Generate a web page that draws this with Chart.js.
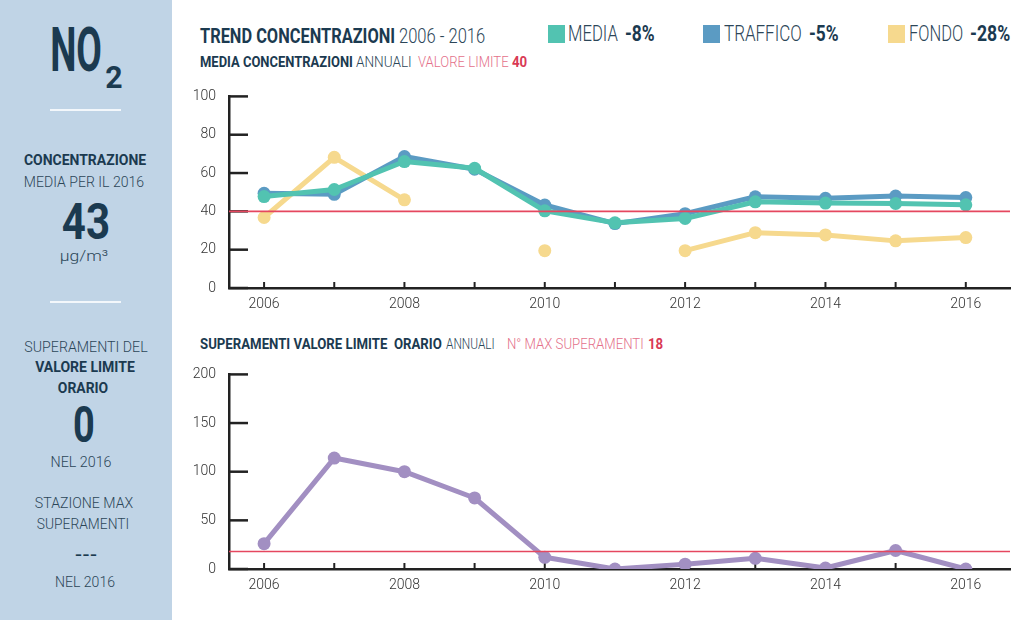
<!DOCTYPE html>
<html><head><meta charset="utf-8">
<script src="https://cdn.jsdelivr.net/npm/chart.js@4.4.1/dist/chart.umd.min.js"></script>
<style>
html,body{margin:0;padding:0;background:#fff;width:1024px;height:620px;overflow:hidden;font-family:Roboto,sans-serif}
#panel{position:absolute;left:0;top:0;width:172px;height:620px;background:#c0d4e6}
.sep{position:absolute;left:50px;width:71px;height:2px;background:#f3f7fb}
.t{position:absolute;white-space:nowrap;line-height:1;font-family:Roboto,sans-serif}
.sq{position:absolute;width:17px;height:18px}
canvas{position:absolute}
</style></head>
<body>
<div id="panel"></div>
<div class="sep" style="top:109px"></div>
<div class="sep" style="top:301px"></div>

<div class="t" data-a="c" data-x="76" data-y="50" data-w="52" style="font-weight:700;font-size:62px;color:#1b3a50">NO</div>
<div class="t" data-a="c" data-x="113.5" data-y="77" data-w="17" style="font-weight:700;font-size:32px;color:#1b3a50">2</div>
<div class="t" data-a="c" data-x="85" data-y="160" data-w="122" style="font-weight:700;font-size:15px;color:#1b3a50">CONCENTRAZIONE</div>
<div class="t" data-a="c" data-x="84" data-y="181.5" data-w="120" style="font-weight:300;font-size:15px;color:#2c4658">MEDIA PER IL 2016</div>
<div class="t" data-a="c" data-x="86" data-y="222" data-w="48" style="font-weight:700;font-size:50px;color:#1b3a50">43</div>
<div class="t" data-a="c" data-x="84" data-y="256" data-w="48" style="font-weight:300;font-size:15px;color:#2c4658">μg/m³</div>
<div class="t" data-a="c" data-x="85.5" data-y="346.5" data-w="123" style="font-weight:300;font-size:15px;color:#2c4658">SUPERAMENTI DEL</div>
<div class="t" data-a="c" data-x="85" data-y="367" data-w="100" style="font-weight:700;font-size:15px;color:#1b3a50">VALORE LIMITE</div>
<div class="t" data-a="c" data-x="83" data-y="388" data-w="50" style="font-weight:700;font-size:15px;color:#1b3a50">ORARIO</div>
<div class="t" data-a="c" data-x="83.5" data-y="425" data-w="22" style="font-weight:700;font-size:50px;color:#1b3a50">0</div>
<div class="t" data-a="c" data-x="80.5" data-y="461.5" data-w="61" style="font-weight:300;font-size:15px;color:#2c4658">NEL 2016</div>
<div class="t" data-a="c" data-x="84" data-y="503" data-w="98" style="font-weight:300;font-size:15px;color:#2c4658">STAZIONE MAX</div>
<div class="t" data-a="c" data-x="83" data-y="524" data-w="92" style="font-weight:300;font-size:15px;color:#2c4658">SUPERAMENTI</div>
<div class="t" data-a="c" data-x="85.5" data-y="555" data-w="23" style="font-weight:700;font-size:15px;color:#1b3a50">---</div>
<div class="t" data-a="c" data-x="85" data-y="581.5" data-w="60" style="font-weight:300;font-size:15px;color:#2c4658">NEL 2016</div>

<div class="t" data-x="200" data-y="35.5" data-w="195" style="font-weight:700;font-size:20px;color:#1b3a50">TREND CONCENTRAZIONI</div>
<div class="t" data-x="399" data-y="35.5" data-w="86" style="font-weight:300;font-size:20px;color:#2c4658">2006 - 2016</div>
<div class="t" data-x="200" data-y="61.5" data-w="153" style="font-weight:700;font-size:15px;color:#1b3a50">MEDIA CONCENTRAZIONI</div>
<div class="t" data-x="356" data-y="61.5" data-w="56" style="font-weight:300;font-size:15px;color:#2c4658">ANNUALI</div>
<div class="t" data-x="418" data-y="61.5" data-w="91" style="font-weight:300;font-size:15px;color:#e4708a">VALORE LIMITE</div>
<div class="t" data-x="512" data-y="61.5" data-w="15" style="font-weight:700;font-size:15px;color:#d93a55">40</div>

<div class="sq" style="left:548px;top:25px;background:#52c3b1"></div>
<div class="t" data-x="568" data-y="34" data-w="50" style="font-weight:300;font-size:22px;color:#2c4658">MEDIA</div>
<div class="t" data-x="625" data-y="34" data-w="30" style="font-weight:700;font-size:22px;color:#1b3a50">-8%</div>
<div class="sq" style="left:703px;top:25px;background:#5b9bc3"></div>
<div class="t" data-x="724" data-y="34" data-w="78" style="font-weight:300;font-size:22px;color:#2c4658">TRAFFICO</div>
<div class="t" data-x="809" data-y="34" data-w="30" style="font-weight:700;font-size:22px;color:#1b3a50">-5%</div>
<div class="sq" style="left:888px;top:25px;background:#f6d98e"></div>
<div class="t" data-x="909" data-y="34" data-w="54" style="font-weight:300;font-size:22px;color:#2c4658">FONDO</div>
<div class="t" data-x="970" data-y="34" data-w="40" style="font-weight:700;font-size:22px;color:#1b3a50">-28%</div>

<div class="t" data-x="200" data-y="344" data-w="242" style="font-weight:700;font-size:15px;color:#1b3a50">SUPERAMENTI VALORE LIMITE&nbsp; ORARIO</div>
<div class="t" data-x="446" data-y="344" data-w="49" style="font-weight:300;font-size:15px;color:#2c4658">ANNUALI</div>
<div class="t" data-x="507" data-y="344" data-w="137" style="font-weight:300;font-size:15px;color:#e4708a">N° MAX SUPERAMENTI</div>
<div class="t" data-x="648" data-y="344" data-w="15" style="font-weight:700;font-size:15px;color:#d93a55">18</div>

<canvas id="c1" width="844" height="243" style="left:180px;top:75px;width:844px;height:243px"></canvas>
<canvas id="c2" width="844" height="246" style="left:180px;top:353px;width:844px;height:246px"></canvas>

<script>
// ---- data ----
const years = [2006, 2007, 2008, 2009, 2010, 2011, 2012, 2013, 2014, 2015, 2016];
const media    = [47.7, 51.4, 66.0, 62.5, 40.3, 34.0, 36.3, 45.0, 44.3, 44.1, 43.4];
const traffico = [49.4, 48.9, 68.6, 62.0, 43.3, 33.6, 38.8, 47.6, 46.8, 48.0, 47.2];
const fondo    = [36.8, 68.2, 46.0, null, 19.5, null, 19.5, 28.9, 27.7, 24.6, 26.3];
const superamenti = [26, 114, 100, 73, 12, 0, 5, 11, 1, 19, 0];
const valoreLimite = 40;
const maxSuperamenti = 18;
const yTicks1 = [0, 20, 40, 60, 80, 100];
const yTicks2 = [0, 50, 100, 150, 200];
const xMin = 2005.5, xMax = 2016.63;

// ---- text fitting ----
function fit(){
  document.querySelectorAll('.t').forEach(el=>{
    const w = el.offsetWidth, s = (+el.dataset.w)/w;
    el.style.left = el.dataset.x + 'px';
    el.style.top = el.dataset.y + 'px';
    if (el.dataset.a === 'c') {
      el.style.transform = `translate(-50%,-50%) scaleX(${s})`;
    } else {
      el.style.transformOrigin = 'left center';
      el.style.transform = `translateY(-50%) scaleX(${s})`;
    }
  });
}

const pts = arr => years.map((y,i)=>({x:y, y:arr[i]}));
const limitLine = v => [{x:xMin,y:v},{x:xMax,y:v}];

const innerTicks = {
  id:'innerTicks',
  beforeDatasetsDraw(chart){
    const {ctx, chartArea:a, scales:{x, y}} = chart;
    ctx.save();
    ctx.strokeStyle = '#222';
    ctx.lineCap = 'butt';
    ctx.lineWidth = 2.5;
    y.ticks.forEach((t,i)=>{
      const py = y.getPixelForValue(t.value);
      ctx.beginPath(); ctx.moveTo(a.left, py); ctx.lineTo(a.left+19, py); ctx.stroke();
    });
    ctx.lineWidth = 2;
    x.ticks.forEach(t=>{
      const px = x.getPixelForValue(t.value);
      ctx.beginPath(); ctx.moveTo(px, a.bottom); ctx.lineTo(px, a.bottom-6); ctx.stroke();
    });
    ctx.restore();
  }
};

function lineDs(data, color, extra){
  return Object.assign({data, borderColor:color, backgroundColor:color, pointBackgroundColor:color,
    pointBorderWidth:0, pointRadius:6.5, borderWidth:5, tension:0, spanGaps:false,
    borderJoinStyle:'round', borderCapStyle:'round'}, extra||{});
}
function limitDs(v){
  return {data:limitLine(v), borderColor:'#e5475f', borderWidth:1.6, pointRadius:0, order:-1, tension:0};
}

const tickFont = {family:'Roboto', size:14, weight:'300'};
function opts(yMax, yStep, yTicks){
  return {
    responsive:false, animation:false, devicePixelRatio:1,
    layout:{padding:{top:10, right:14, left:0, bottom:0}},
    plugins:{legend:{display:false}, tooltip:{enabled:false}},
    scales:{
      x:{type:'linear', min:xMin, max:xMax,
        ticks:{stepSize:1, includeBounds:false, autoSkip:false, maxRotation:0, padding:8, color:'#333', font:tickFont,
          callback:v=> (v%2===0 ? String(v) : '')},
        grid:{drawOnChartArea:false, drawTicks:false},
        border:{display:true, color:'#222', width:2.5},
        afterFit:s=>{s.height=30;}
      },
      y:{min:0, max:yMax,
        afterBuildTicks:s=>{s.ticks = yTicks.map(v=>({value:v}));},
        ticks:{stepSize:yStep, padding:13, color:'#333', font:tickFont},
        grid:{drawOnChartArea:false, drawTicks:false},
        border:{display:true, color:'#222', width:2.5},
        afterFit:s=>{s.width=49;}
      }
    }
  };
}

function draw(){
  fit();
  new Chart(document.getElementById('c1'), {
    type:'line',
    data:{datasets:[
      limitDs(valoreLimite),
      lineDs(pts(media), '#52c3b1', {order:0}),
      lineDs(pts(traffico), '#5b9bc3', {order:1}),
      lineDs(pts(fondo), '#f6d98e', {order:2})
    ]},
    options:opts(100, 20, yTicks1),
    plugins:[innerTicks]
  });
  new Chart(document.getElementById('c2'), {
    type:'line',
    data:{datasets:[
      limitDs(maxSuperamenti),
      lineDs(pts(superamenti), '#a28fc2', {order:0})
    ]},
    options:opts(200, 50, yTicks2),
    plugins:[innerTicks]
  });
}
if (document.fonts && document.fonts.ready) { document.fonts.ready.then(draw); } else { draw(); }
</script>
</body></html>
